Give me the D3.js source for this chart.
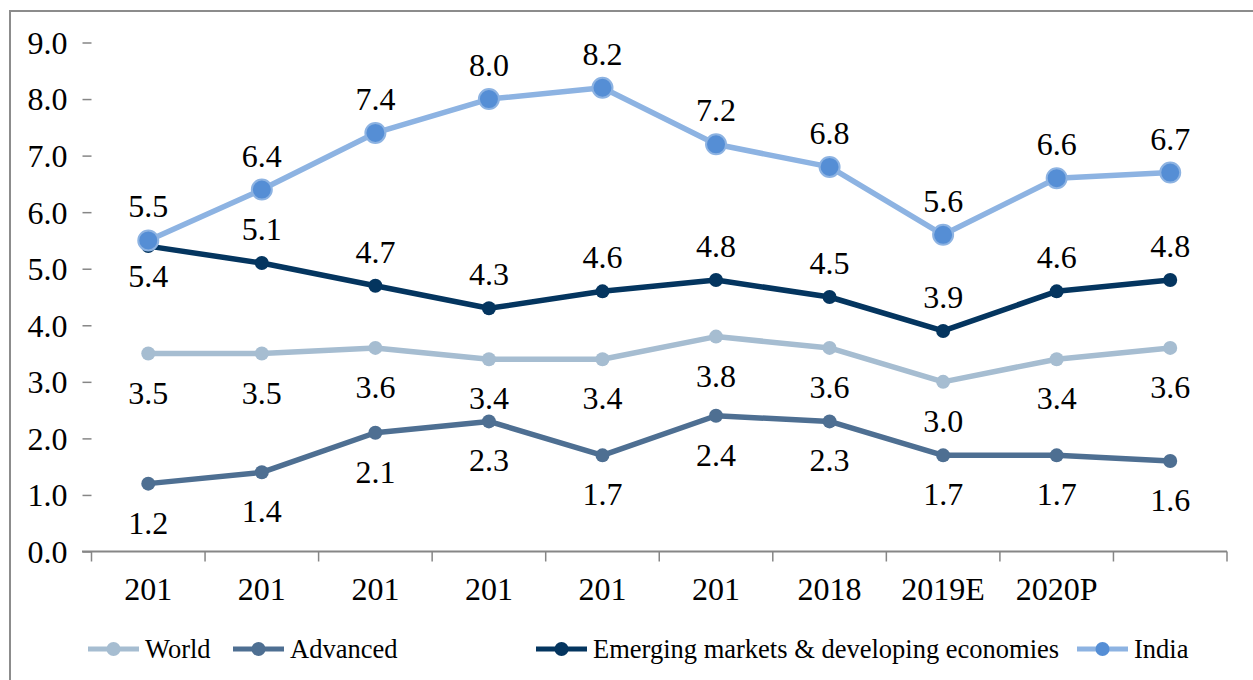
<!DOCTYPE html>
<html>
<head>
<meta charset="utf-8">
<script src="https://cdn.jsdelivr.net/npm/d3@7"></script>
<style>
  body { margin: 0; background: #fff; }
  text { font-family: "Liberation Serif", "Times New Roman", serif; fill: #000; }
</style>
</head>
<body>
<div id="graph"></div>
<script>
// categories (x axis labels as printed, last one is blank)
var years = ["201", "201", "201", "201", "201", "201", "2018", "2019E", "2020P", ""];

// growth rates, %
var world    = [3.5, 3.5, 3.6, 3.4, 3.4, 3.8, 3.6, 3.0, 3.4, 3.6];
var advanced = [1.2, 1.4, 2.1, 2.3, 1.7, 2.4, 2.3, 1.7, 1.7, 1.6];
var emde     = [5.4, 5.1, 4.7, 4.3, 4.6, 4.8, 4.5, 3.9, 4.6, 4.8];
var india    = [5.5, 6.4, 7.4, 8.0, 8.2, 7.2, 6.8, 5.6, 6.6, 6.7];

var yTicks = [0, 1, 2, 3, 4, 5, 6, 7, 8, 9];

var series = [
  {name: "World", values: world, color: "#a6bdd1", r: 7, pos: "below"},
  {name: "Advanced", values: advanced, color: "#4e6f92", r: 7, pos: "below"},
  {name: "Emerging markets & developing economies", values: emde, color: "#04355f", r: 7, pos: "above"},
  {name: "India", values: india, color: "#8db3e2", dot: "#558ed5", r: 10, pos: "above"}
];

var W = 1253, H = 680;

var svg = d3.select("#graph")
  .append("svg")
    .attr("width", W)
    .attr("height", H);

// chart border (right & bottom fall outside the picture)
svg.append("rect")
  .attr("x", 10)
  .attr("y", 11)
  .attr("width", W + 20)
  .attr("height", H + 20)
  .style("fill", "none")
  .style("stroke", "#8c8c8c")
  .style("stroke-width", 2);

var x = d3.scaleBand()
  .domain(d3.range(years.length))
  .range([91.5, 1227]);

var y = d3.scaleLinear()
  .domain([0, 9])
  .range([551.5, 42.5]);

// Y axis: ticks only, no line
var yAxis = svg.append("g")
  .attr("transform", "translate(91.5,0)")
  .call(d3.axisLeft(y).tickValues(yTicks).tickFormat(d3.format(".1f"))
        .tickSize(9).tickPadding(15));
yAxis.select(".domain").remove();
yAxis.selectAll("line").style("stroke", "#868686").style("stroke-width", 1.5);
yAxis.selectAll("text").style("font-size", "32px").attr("dy", "0.34em");

// X axis
var xAxis = svg.append("g")
  .attr("transform", "translate(0," + y(0) + ")")
  .call(d3.axisBottom(x).tickFormat(function(i) { return years[i]; })
        .tickSize(0).tickPadding(26));
xAxis.select(".domain").remove();
xAxis.selectAll("text").style("font-size", "32px").attr("dy", "0.71em");

xAxis.append("line")
  .attr("x1", 82).attr("x2", 1227)
  .style("stroke", "#868686")
  .style("stroke-width", 2);

xAxis.selectAll(".bound")
  .data(d3.range(years.length + 1))
  .enter()
  .append("line")
    .attr("class", "bound")
    .attr("x1", function(i) { return x.range()[0] + i * x.step(); })
    .attr("x2", function(i) { return x.range()[0] + i * x.step(); })
    .attr("y1", 0).attr("y2", 10)
    .style("stroke", "#868686")
    .style("stroke-width", 1.5);

var cx = function(d, i) { return x(i) + x.bandwidth() / 2; };

var line = d3.line()
  .x(function(d, i) { return x(i) + x.bandwidth() / 2; })
  .y(function(d) { return y(d); });

series.forEach(function(s) {
  var g = svg.append("g");

  g.append("path")
    .datum(s.values)
    .attr("d", line)
    .style("fill", "none")
    .style("stroke", s.color)
    .style("stroke-width", 5.5)
    .style("stroke-linejoin", "round");

  g.selectAll("circle")
    .data(s.values)
    .enter()
    .append("circle")
      .attr("cx", cx)
      .attr("cy", function(d) { return y(d); })
      .attr("r", s.r)
      .style("fill", s.dot || s.color)
      .style("stroke", s.dot ? s.color : "none")
      .style("stroke-width", 2);
});

// data labels, drawn last so they sit above the lines
series.forEach(function(s) {
  svg.append("g").selectAll("text")
    .data(s.values)
    .enter()
    .append("text")
      .attr("x", cx)
      .attr("y", function(d, i) {
        // first EMDE label sits under its point (India overlaps above)
        if (s.values === emde && i == 0) return y(d) + 41;
        return s.pos == "below" ? y(d) + 50 : y(d) - 23;
      })
      .style("font-size", "32px")
      .style("text-anchor", "middle")
      .text(function(d) { return d.toFixed(1); });
});

// legend
var legendX = [88, 233, 536, 1077];

var legend = svg.append("g")
  .selectAll("g")
  .data(series)
  .enter()
  .append("g")
    .attr("transform", function(d, i) { return "translate(" + legendX[i] + ",649)"; });

legend.append("line")
  .attr("x1", 0).attr("x2", 51)
  .style("stroke", function(d) { return d.color; })
  .style("stroke-width", 5);

legend.append("circle")
  .attr("cx", 25.5)
  .attr("r", 7)
  .style("fill", function(d) { return d.dot || d.color; });

legend.append("text")
  .attr("x", 57)
  .attr("y", 9)
  .style("font-size", "26.5px")
  .text(function(d) { return d.name; });
</script>
</body>
</html>
